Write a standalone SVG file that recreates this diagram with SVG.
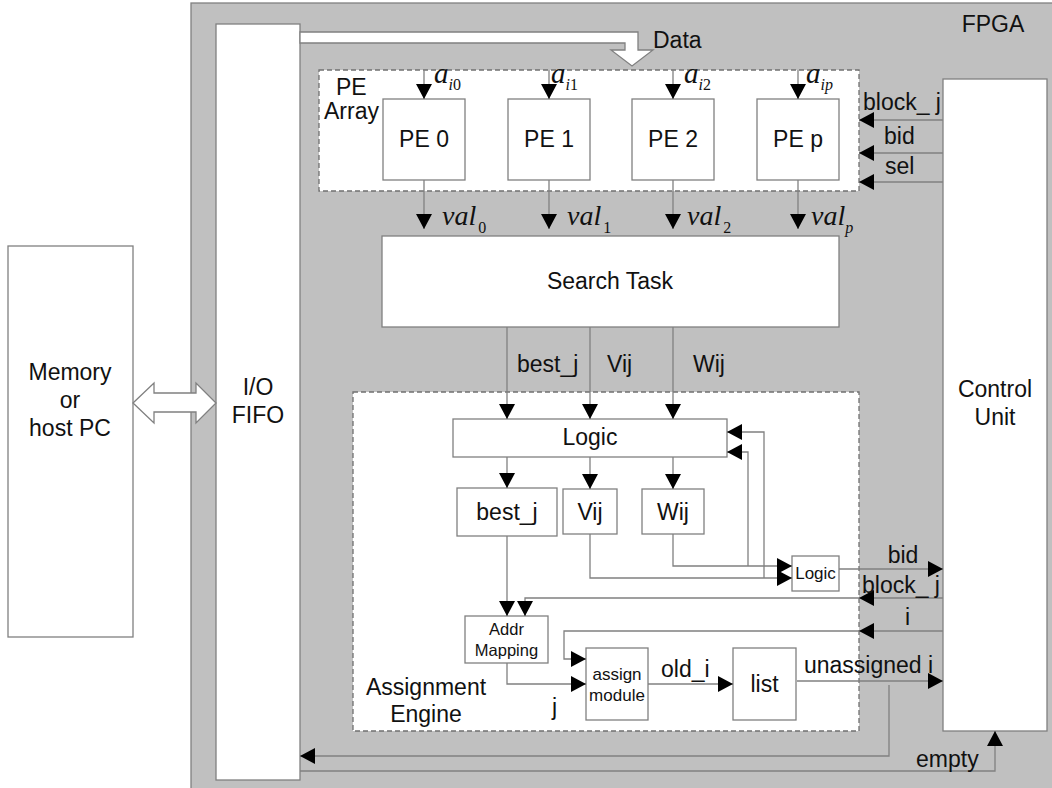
<svg xmlns="http://www.w3.org/2000/svg" width="1052" height="788" viewBox="0 0 1052 788">
<style>
.box{fill:#fff;stroke:#808080;stroke-width:1.3}
.dash{fill:#fff;stroke:#707070;stroke-width:1.3;stroke-dasharray:5,3}
.ln{fill:none;stroke:#808080;stroke-width:1.3}
.t{font-family:"Liberation Sans",Arial,sans-serif;fill:#111;font-size:23px}
.m{font-family:"Liberation Serif","Times New Roman",serif;font-style:italic;fill:#111}
</style>
<defs>
<marker id="ah" markerWidth="16" markerHeight="16" refX="15" refY="8" orient="auto" markerUnits="userSpaceOnUse">
<path d="M0,0 L15,8 L0,16 Z" fill="#000"/>
</marker>
</defs>
<rect width="1052" height="788" fill="#fff"/>
<g id="fpga">
<rect x="191" y="3" width="870" height="800" fill="#c0c0c0" stroke="#808080" stroke-width="1.3"/>
<text class="t" x="993" y="32" text-anchor="middle">FPGA</text>
</g>
<g id="memory">
<rect class="box" x="8" y="246" width="125" height="391"/>
<text class="t" text-anchor="middle"><tspan x="70" y="380">Memory</tspan><tspan x="70" y="408">or</tspan><tspan x="70" y="436">host PC</tspan></text>
</g>
<g id="fifo">
<rect class="box" x="216" y="24" width="84" height="756"/>
<text class="t" text-anchor="middle"><tspan x="258" y="395">I/O</tspan><tspan x="258" y="423">FIFO</tspan></text>
</g>
<g id="pe-array">
<rect class="dash" x="319" y="70" width="540" height="121"/>
<text class="t"><tspan x="336" y="95">PE</tspan><tspan x="324" y="119">Array</tspan></text>
</g>
<g id="pe0"><rect class="box" x="383" y="99" width="82" height="81"/><text class="t" x="424" y="147" text-anchor="middle">PE 0</text></g>
<g id="pe1"><rect class="box" x="508" y="99" width="82" height="81"/><text class="t" x="549" y="147" text-anchor="middle">PE 1</text></g>
<g id="pe2"><rect class="box" x="632" y="99" width="82" height="81"/><text class="t" x="673" y="147" text-anchor="middle">PE 2</text></g>
<g id="pep"><rect class="box" x="757" y="99" width="82" height="81"/><text class="t" x="798" y="147" text-anchor="middle">PE p</text></g>
<g id="search-task"><rect class="box" x="382" y="236" width="457" height="91"/><text class="t" x="610" y="289" text-anchor="middle">Search Task</text></g>
<g id="control-unit"><rect class="box" x="943" y="79" width="104" height="652"/><text class="t" text-anchor="middle"><tspan x="995" y="397">Control</tspan><tspan x="995" y="425">Unit</tspan></text></g>
<g id="assignment-engine">
<rect class="dash" x="353" y="392" width="506" height="339"/>
<text class="t" text-anchor="middle"><tspan x="426" y="695">Assignment</tspan><tspan x="426" y="722">Engine</tspan></text>
</g>
<g id="logic"><rect class="box" x="453" y="419" width="274" height="38"/><text class="t" x="590" y="445" text-anchor="middle">Logic</text></g>
<g id="best-j"><rect class="box" x="457" y="488" width="100" height="48"/><text class="t" x="507" y="520" text-anchor="middle">best_j</text></g>
<g id="vij"><rect class="box" x="563" y="489" width="54" height="45"/><text class="t" x="590" y="520" text-anchor="middle">Vij</text></g>
<g id="wij"><rect class="box" x="642" y="489" width="62" height="45"/><text class="t" x="673" y="520" text-anchor="middle">Wij</text></g>
<g id="logic-small"><rect class="box" x="792" y="556" width="47" height="35"/><text class="t" x="815.5" y="579" style="font-size:17px" text-anchor="middle">Logic</text></g>
<g id="addr-mapping"><rect class="box" x="465" y="616" width="83" height="47"/><text class="t" style="font-size:16.5px" text-anchor="middle"><tspan x="506.5" y="635">Addr</tspan><tspan x="506.5" y="656">Mapping</tspan></text></g>
<g id="assign-module"><rect class="box" x="586" y="648" width="62" height="72"/><text class="t" style="font-size:17px" text-anchor="middle"><tspan x="617" y="680">assign</tspan><tspan x="617" y="701">module</tspan></text></g>
<g id="list"><rect class="box" x="733" y="648" width="63" height="72"/><text class="t" x="764.5" y="692" text-anchor="middle">list</text></g>
<g id="connectors">
<path d="M300,32 H638 V50 H653 L632,66 L611,50 H625 V43 H300 Z" fill="#fff" stroke="#808080" stroke-width="1.3"/>
<path d="M133,403 L154,383 V393 H196 V383 L216,403 L196,423 V412 H154 V423 Z" fill="#fff" stroke="#808080" stroke-width="1.3"/>
<line class="ln" x1="424" y1="70" x2="424" y2="99" marker-end="url(#ah)"/>
<line class="ln" x1="549" y1="70" x2="549" y2="99" marker-end="url(#ah)"/>
<line class="ln" x1="673" y1="70" x2="673" y2="99" marker-end="url(#ah)"/>
<line class="ln" x1="798" y1="70" x2="798" y2="99" marker-end="url(#ah)"/>
<line class="ln" x1="424" y1="180" x2="424" y2="229" marker-end="url(#ah)"/>
<line class="ln" x1="549" y1="180" x2="549" y2="229" marker-end="url(#ah)"/>
<line class="ln" x1="673" y1="180" x2="673" y2="229" marker-end="url(#ah)"/>
<line class="ln" x1="798" y1="180" x2="798" y2="229" marker-end="url(#ah)"/>
<line class="ln" x1="943" y1="120" x2="859" y2="120" marker-end="url(#ah)"/>
<line class="ln" x1="943" y1="153" x2="859" y2="153" marker-end="url(#ah)"/>
<line class="ln" x1="943" y1="182" x2="859" y2="182" marker-end="url(#ah)"/>
<line class="ln" x1="507" y1="327" x2="507" y2="419" marker-end="url(#ah)"/>
<line class="ln" x1="590" y1="327" x2="590" y2="419" marker-end="url(#ah)"/>
<line class="ln" x1="673" y1="327" x2="673" y2="419" marker-end="url(#ah)"/>
<line class="ln" x1="507" y1="457" x2="507" y2="488" marker-end="url(#ah)"/>
<line class="ln" x1="590" y1="457" x2="590" y2="489" marker-end="url(#ah)"/>
<line class="ln" x1="673" y1="457" x2="673" y2="489" marker-end="url(#ah)"/>
<polyline class="ln" points="673,534 673,566 792,566" marker-end="url(#ah)"/>
<polyline class="ln" points="590,534 590,578 792,578" marker-end="url(#ah)"/>
<polyline class="ln" points="748,566 748,452 727,452" marker-end="url(#ah)"/>
<polyline class="ln" points="764,578 764,432 727,432" marker-end="url(#ah)"/>
<line class="ln" x1="839" y1="569" x2="943" y2="569" marker-end="url(#ah)"/>
<line class="ln" x1="943" y1="598" x2="859" y2="598" marker-end="url(#ah)"/>
<polyline class="ln" points="859,598 525,598 525,616" marker-end="url(#ah)"/>
<line class="ln" x1="507" y1="536" x2="507" y2="616" marker-end="url(#ah)"/>
<line class="ln" x1="943" y1="631" x2="859" y2="631" marker-end="url(#ah)"/>
<polyline class="ln" points="859,631 564,631 564,659 586,659" marker-end="url(#ah)"/>
<polyline class="ln" points="507,663 507,684 586,684" marker-end="url(#ah)"/>
<line class="ln" x1="648" y1="684" x2="733" y2="684" marker-end="url(#ah)"/>
<line class="ln" x1="797" y1="681" x2="943" y2="681" marker-end="url(#ah)"/>
<polyline class="ln" points="889,685 889,756 300,756" marker-end="url(#ah)"/>
<polyline class="ln" points="300,771 995,771 995,731" marker-end="url(#ah)"/>
</g>
<g id="labels">
<text class="t" x="653" y="48">Data</text>
<text class="t" x="863" y="110">block_ j</text>
<text class="t" x="884" y="144">bid</text>
<text class="t" x="885" y="174">sel</text>
<text class="m" x="434" y="83" font-size="29">a<tspan font-size="16" dy="7">i</tspan><tspan font-size="16" font-style="normal">0</tspan></text>
<text class="m" x="551" y="83" font-size="29">a<tspan font-size="16" dy="7">i</tspan><tspan font-size="16" font-style="normal">1</tspan></text>
<text class="m" x="684" y="83" font-size="29">a<tspan font-size="16" dy="7">i</tspan><tspan font-size="16" font-style="normal">2</tspan></text>
<text class="m" x="806" y="83" font-size="29">a<tspan font-size="16" dy="7">ip</tspan></text>
<text class="m" x="442" y="225" font-size="28">val<tspan font-size="16" dx="2" dy="8" font-style="normal">0</tspan></text>
<text class="m" x="567" y="225" font-size="28">val<tspan font-size="16" dx="2" dy="8" font-style="normal">1</tspan></text>
<text class="m" x="687" y="225" font-size="28">val<tspan font-size="16" dx="2" dy="8" font-style="normal">2</tspan></text>
<text class="m" x="811" y="225" font-size="28">val<tspan font-size="16" dy="8">p</tspan></text>
<text class="t" x="517" y="372">best_j</text>
<text class="t" x="607" y="372">Vij</text>
<text class="t" x="693" y="372">Wij</text>
<text class="t" x="903" y="563" text-anchor="middle">bid</text>
<text class="t" x="862" y="593">block_ j</text>
<text class="t" x="905" y="625">i</text>
<text class="t" x="552" y="715">j</text>
<text class="t" x="661" y="677">old_i</text>
<text class="t" x="804" y="673">unassigned i</text>
<text class="t" x="916" y="767">empty</text>
</g>
</svg>
